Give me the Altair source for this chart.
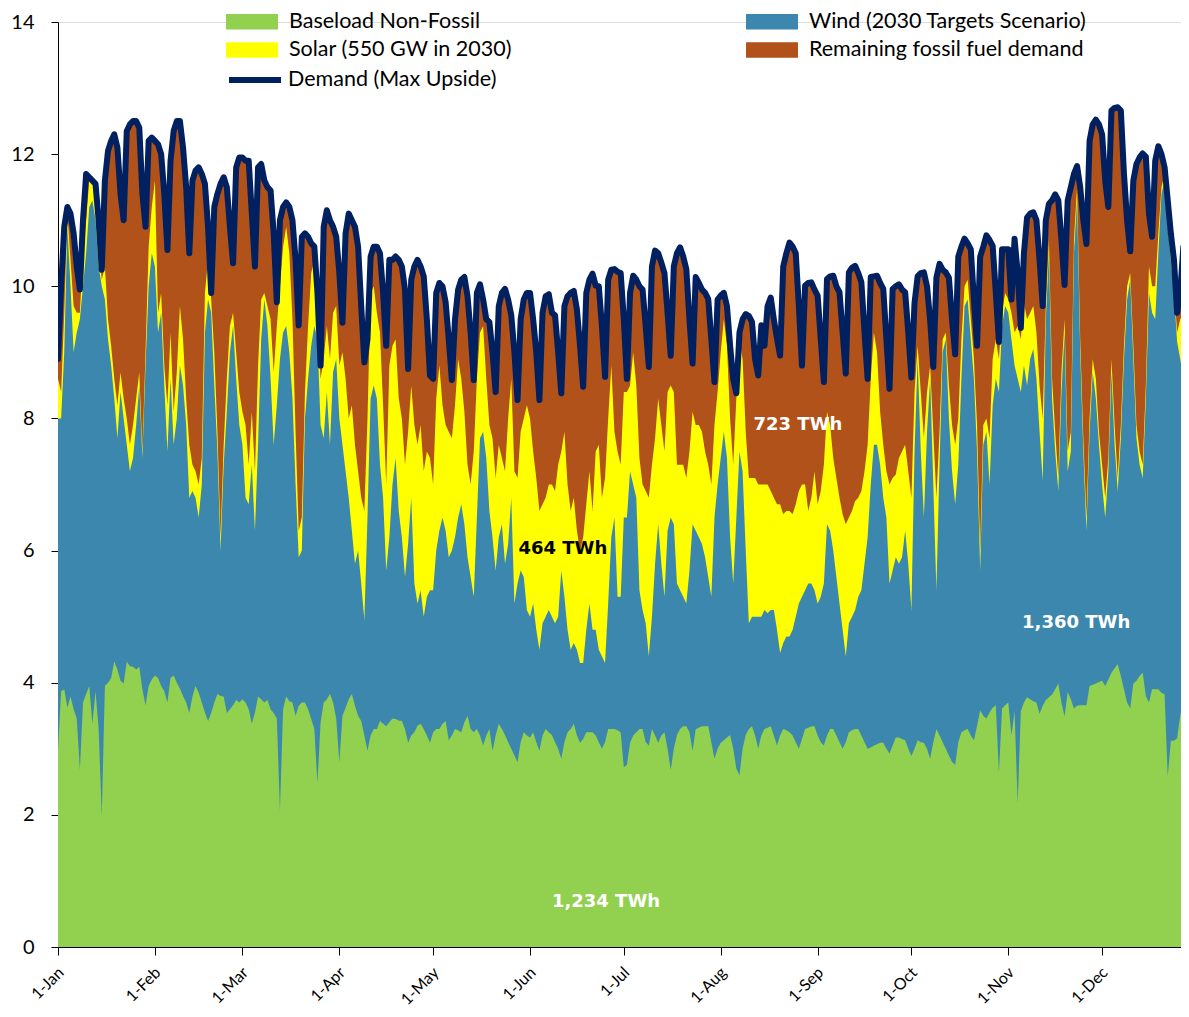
import json
import altair as alt
import pandas as pd

# ---------------- data ----------------
month_start_days = [0, 31, 59, 90, 120, 151, 181, 212, 243, 273, 304, 334]
month_labels = ["1-Jan", "1-Feb", "1-Mar", "1-Apr", "1-May", "1-Jun",
                "1-Jul", "1-Aug", "1-Sep", "1-Oct", "1-Nov", "1-Dec"]
y_ticks = [0, 2, 4, 6, 8, 10, 12, 14]

# Demand (Max Upside), TWh/day, one value per day from 1-Jan
demand = [
    8.9, 10.0, 10.9, 11.2, 11.1, 10.8, 10.3,
    9.95, 11.0, 11.7, 11.65, 11.6, 11.55, 11.0,
    10.25, 11.6, 12.05, 12.2, 12.3, 12.1, 11.4,
    11.0, 12.35, 12.45, 12.5, 12.5, 12.4, 11.4,
    10.9, 12.2, 12.25, 12.2, 12.15, 12.0, 11.4,
    10.55, 11.9, 12.35, 12.5, 12.5, 12.1, 11.5,
    10.5, 11.6, 11.75, 11.8, 11.7, 11.55, 10.9,
    9.9, 11.2, 11.4, 11.55, 11.65, 11.5, 10.9,
    10.35, 11.8, 11.95, 11.95, 11.9, 11.9, 11.1,
    10.3, 11.8, 11.85, 11.6, 11.5, 11.45, 10.8,
    9.76, 11.0, 11.2, 11.27, 11.2, 11.0, 10.4,
    9.41, 10.75, 10.8, 10.75, 10.65, 10.6, 9.9,
    8.8, 10.9, 11.15, 11.0, 10.9, 10.75, 10.2,
    9.45, 10.8, 11.1, 11.0, 10.9, 10.6, 9.7,
    8.85, 9.2, 10.45, 10.6, 10.6, 10.5, 9.9,
    9.1, 10.4, 10.4, 10.45, 10.4, 10.3, 9.95,
    8.75, 10.1, 10.3, 10.4, 10.3, 10.15, 9.5,
    8.65, 8.6, 9.9, 10.05, 10.0, 9.76, 9.2,
    8.58, 9.5, 9.95, 10.1, 10.14, 9.85, 9.3,
    8.58, 9.9, 10.03, 9.8, 9.5, 9.46, 9.0,
    8.4, 9.7, 9.9, 9.96, 9.8, 9.56, 9.0,
    8.28, 9.5, 9.8, 9.9, 9.9, 9.5, 9.0,
    8.28, 9.6, 9.85, 9.88, 9.6, 9.56, 9.0,
    8.38, 9.7, 9.85, 9.9, 9.93, 9.65, 9.1,
    8.48, 9.9, 10.1, 10.19, 10.01, 10.0, 9.4,
    8.63, 10.1, 10.25, 10.26, 10.22, 10.2, 9.5,
    8.6, 9.9, 10.16, 10.1, 10.0, 9.95, 9.4,
    8.78, 10.3, 10.54, 10.5, 10.36, 10.2, 9.6,
    8.95, 10.3, 10.5, 10.59, 10.45, 10.26, 9.5,
    8.83, 10.14, 10.05, 9.95, 9.9, 9.81, 9.2,
    8.55, 9.8, 9.86, 9.9, 9.7, 9.1, 8.6,
    8.38, 9.3, 9.5, 9.58, 9.55, 9.46, 8.9,
    8.65, 9.41, 9.1, 9.7, 9.83, 9.5, 9.21,
    8.95, 10.3, 10.5, 10.66, 10.6, 10.5, 9.7,
    8.8, 10.01, 10.05, 10.06, 9.95, 9.86, 9.2,
    8.55, 10.11, 10.15, 10.16, 10.0, 9.91, 9.3,
    8.68, 10.21, 10.28, 10.31, 10.2, 10.06, 9.3,
    8.6, 10.14, 10.15, 10.16, 10.05, 9.96, 9.2,
    8.45, 9.96, 10.0, 10.03, 9.95, 9.91, 9.3,
    8.62, 9.75, 10.15, 10.2, 10.21, 10.0, 9.48,
    8.78, 10.13, 10.34, 10.25, 10.21, 10.13, 9.5,
    8.97, 10.45, 10.6, 10.72, 10.65, 10.56, 9.8,
    9.1, 10.45, 10.6, 10.77, 10.7, 10.61, 9.9,
    9.16, 10.56, 10.56, 10.56, 9.8, 10.72, 10.2,
    9.37, 10.5, 11.04, 11.1, 11.12, 11.0, 10.4,
    9.7, 11.0, 11.25, 11.3, 11.39, 11.3, 10.7,
    10.02, 11.3, 11.5, 11.7, 11.82, 11.5, 11.0,
    10.64, 12.2, 12.45, 12.52, 12.45, 12.3, 11.6,
    11.2, 12.66, 12.7, 12.71, 12.66, 11.7, 11.0,
    10.53, 11.6, 11.85, 11.95, 12.01, 11.96, 11.1,
    10.75, 11.9, 12.12, 12.0, 11.8, 11.3, 10.8,
    10.4, 9.6, 9.9, 10.6, 10.66,
]

# Baseload Non-Fossil, TWh/day
baseload = [
    2.97, 3.87, 3.9, 3.62, 3.79, 3.6, 3.46, 2.68, 3.7, 3.83, 3.95, 3.38, 3.87, 3.3,
    1.99, 3.95, 4.0, 4.07, 4.32, 4.2, 4.03, 3.99, 4.32, 4.25, 4.24, 4.2, 4.24, 3.9,
    3.66, 3.95, 4.05, 4.11, 4.07, 3.95, 3.87, 3.7, 4.07, 4.11, 4.0, 3.91, 3.8, 3.7,
    3.54, 3.79, 3.95, 3.85, 3.7, 3.55, 3.42, 3.54, 3.7, 3.83, 3.8, 3.79, 3.54, 3.6,
    3.66, 3.74, 3.7, 3.75, 3.7, 3.6, 3.38, 3.55, 3.79, 3.75, 3.7, 3.74, 3.6, 3.54,
    3.46, 2.07, 3.6, 3.79, 3.72, 3.7, 3.5, 3.65, 3.7, 3.7, 3.6, 3.45, 3.3, 2.48,
    3.4, 3.7, 3.75, 3.83, 3.7, 3.46, 2.8, 3.5, 3.62, 3.75, 3.83, 3.65, 3.5, 3.42,
    3.2, 2.97, 3.2, 3.3, 3.3, 3.42, 3.38, 3.34, 3.4, 3.46, 3.45, 3.43, 3.42, 3.3,
    3.09, 3.2, 3.25, 3.35, 3.38, 3.3, 3.2, 3.09, 3.25, 3.3, 3.3, 3.38, 3.42, 3.13,
    3.2, 3.3, 3.28, 3.25, 3.4, 3.5, 3.3, 3.25, 3.3, 3.2, 3.05, 3.2, 3.3, 2.97,
    3.2, 3.38, 3.3, 3.21, 3.1, 3.0, 2.9, 2.8, 3.1, 3.25, 3.2, 3.17, 3.25, 3.1,
    2.97, 3.2, 3.3, 3.25, 3.21, 3.1, 3.0, 2.85, 3.1, 3.25, 3.3, 3.38, 3.2, 3.09,
    3.15, 3.25, 3.25, 3.25, 3.2, 3.1, 3.0, 3.1, 3.3, 3.3, 3.3, 3.28, 3.25, 2.72,
    2.76, 3.09, 3.2, 3.25, 3.3, 3.3, 3.1, 3.05, 3.3, 3.2, 3.09, 3.2, 3.25, 3.0,
    2.68, 3.0, 3.21, 3.3, 3.34, 3.34, 3.25, 2.97, 3.3, 3.32, 3.34, 3.34, 3.34, 3.1,
    2.85, 3.0, 3.09, 3.13, 3.17, 3.21, 3.0, 2.7, 2.6, 3.0, 3.21, 3.3, 3.34, 3.2,
    3.0, 3.2, 3.3, 3.32, 3.34, 3.2, 3.05, 3.2, 3.3, 3.28, 3.25, 3.2, 3.1, 3.0,
    3.15, 3.3, 3.32, 3.34, 3.34, 3.2, 3.1, 3.05, 3.2, 3.3, 3.3, 3.2, 3.1, 3.0,
    3.1, 3.25, 3.28, 3.3, 3.3, 3.2, 3.1, 3.0, 3.02, 3.05, 3.07, 3.09, 3.09, 3.0,
    2.93, 3.05, 3.17, 3.17, 3.15, 3.13, 3.0, 2.89, 3.0, 3.13, 3.1, 3.09, 3.0, 2.85,
    3.1, 3.3, 3.2, 3.1, 3.0, 2.9, 2.8, 2.76, 3.1, 3.25, 3.28, 3.3, 3.2, 3.13,
    3.35, 3.58, 3.5, 3.46, 3.55, 3.62, 3.66, 2.64, 3.61, 3.66, 3.7, 3.2, 3.57, 2.17,
    3.57, 3.7, 3.78, 3.75, 3.72, 3.7, 3.53, 3.65, 3.74, 3.78, 3.82, 3.9, 3.99, 3.7,
    3.49, 3.86, 3.75, 3.61, 3.65, 3.66, 3.66, 3.66, 3.95, 3.97, 3.99, 4.01, 4.03, 3.95,
    4.05, 4.15, 4.22, 4.28, 4.1, 3.9, 3.7, 3.61, 3.99, 4.03, 4.1, 4.15, 3.8, 3.7,
    3.9, 3.9, 3.9, 3.85, 3.82, 2.58, 3.12, 3.12, 3.16, 3.5, 3.74, 3.57,
]

# Level reached by Baseload + Wind (2030 Targets Scenario), TWh/day
wind_top = [
    8.0, 8.0, 9.0, 10.9, 10.0, 9.0, 9.3, 9.5, 10.0, 10.5, 11.2, 11.3, 11.0, 10.3,
    10.0, 9.8, 9.2, 8.8, 8.3, 7.7, 8.4, 8.0, 7.6, 7.2, 7.4, 7.9, 8.5, 7.4,
    8.8, 10.0, 10.5, 10.3, 9.3, 9.6, 8.5, 7.5, 8.6, 7.6, 8.0, 8.8, 8.5, 7.9,
    6.8, 6.9, 6.8, 6.5, 7.0, 9.3, 9.8, 9.6, 8.5, 7.5, 6.0, 7.3, 8.1, 9.0,
    9.4, 8.6, 7.9, 7.6, 6.8, 6.7, 7.3, 6.3, 7.6, 9.2, 9.8, 9.4, 8.6, 7.6,
    8.2, 8.9, 9.3, 9.4, 9.0, 8.3, 7.0, 5.9, 6.0, 8.0, 8.6, 9.1, 9.4, 9.2,
    7.9, 7.7, 8.4, 7.6, 8.7, 8.9, 8.0, 7.6, 7.2, 6.8, 6.3, 5.8, 6.0, 5.5,
    4.95, 6.5, 8.3, 8.5, 8.3, 7.3, 6.8, 5.7, 6.2, 7.0, 7.4, 6.6, 6.2, 5.6,
    6.1, 6.8, 5.5, 5.2, 5.4, 5.0, 5.3, 5.4, 5.4, 6.0, 6.3, 6.5, 6.3, 5.9,
    6.0, 6.2, 6.5, 6.7, 6.4, 5.9, 5.6, 5.3, 6.5, 7.7, 7.8, 7.4, 6.6, 6.2,
    5.7, 6.2, 6.4, 5.8, 6.1, 6.8, 5.2, 5.5, 5.7, 5.6, 5.1, 5.0, 5.2, 4.8,
    4.5, 4.9, 5.0, 5.1, 5.0, 4.9, 5.0, 5.7, 5.3, 4.8, 4.5, 4.6, 4.5, 4.3,
    4.3, 4.8, 5.2, 4.8, 4.8, 4.5, 4.4, 4.3, 5.2, 6.2, 6.5, 5.3, 5.3, 6.5,
    6.5, 7.2, 7.0, 6.8, 5.4, 5.1, 4.9, 4.4, 5.0, 5.8, 6.4, 5.8, 5.3, 6.3,
    6.5, 6.4, 5.5, 5.4, 5.3, 5.2, 5.7, 6.4, 6.3, 6.2, 6.1, 5.9, 5.6, 5.3,
    6.5, 7.0, 7.4, 7.8, 7.4, 6.2, 5.5, 6.5, 7.5, 7.2, 6.0, 4.9, 5.0, 5.0,
    5.0, 5.0, 5.1, 5.05, 5.1, 5.1, 4.8, 4.45, 4.6, 4.7, 4.7, 4.8, 5.0, 5.2,
    5.3, 5.4, 5.5, 5.5, 5.4, 5.2, 5.3, 5.5, 6.4, 6.3, 6.0, 5.6, 5.2, 4.8,
    4.4, 4.9, 5.0, 5.1, 5.3, 5.4, 5.8, 6.2, 7.0, 7.6, 7.6, 7.3, 6.8, 6.5,
    5.5, 5.7, 5.9, 5.8, 5.9, 6.3, 5.8, 5.1, 7.5, 8.9, 7.5, 6.5, 7.8, 8.6,
    7.0, 5.4, 7.3, 9.0, 9.2, 8.0, 7.2, 6.7, 7.3, 8.6, 9.7, 9.8, 9.2, 8.6,
    7.5, 5.7, 7.6, 7.8, 7.0, 8.2, 8.6, 8.4, 9.4, 9.7, 9.6, 9.2, 8.8, 8.6,
    8.4, 8.8, 8.5, 8.9, 9.05, 8.6, 7.8, 7.06, 9.5, 10.5, 8.3, 7.5, 6.9, 8.4,
    9.3, 7.2, 7.5, 10.5, 11.3, 9.0, 7.5, 6.3, 7.8, 8.7, 8.3, 7.6, 7.0, 6.5,
    7.2, 8.7, 7.6, 6.9, 7.7, 8.9, 9.8, 10.1, 8.9, 7.7, 7.3, 7.1, 8.3, 9.9,
    9.6, 9.5, 10.5, 11.4, 11.6, 10.9, 10.4, 9.9, 9.16, 8.9, 8.6, 9.8,
]

# Level reached by Baseload + Wind + Solar (550 GW in 2030), TWh/day
solar_top = [
    8.6, 8.4, 9.6, 11.1, 10.4, 9.7, 9.6, 9.6, 10.5, 11.0, 11.6, 11.6, 11.4, 10.6,
    10.1, 10.3, 9.5, 9.1, 8.6, 8.2, 8.7, 8.3, 8.0, 7.6, 7.9, 8.3, 8.7, 7.5,
    9.0, 10.6, 11.2, 11.6, 9.6, 9.9, 8.8, 8.2, 9.3, 8.1, 8.7, 9.7, 9.2, 8.3,
    7.6, 7.3, 7.2, 7.0, 7.4, 9.9, 10.4, 9.8, 9.0, 7.8, 6.2, 7.6, 8.6, 9.4,
    9.6, 9.0, 8.4, 8.1, 7.9, 7.3, 8.1, 7.2, 8.8, 9.8, 9.9, 9.7, 9.5, 8.7,
    9.4, 10.0, 10.6, 10.9, 10.5, 9.5, 7.8, 6.3, 6.5, 8.4, 9.4, 10.2, 10.4, 9.5,
    8.6, 8.9, 9.4, 8.9, 9.6, 9.7, 8.8, 9.0, 8.6, 8.0, 8.2, 7.6, 7.2, 6.8,
    6.6, 8.0, 9.9, 10.0, 9.6, 9.3, 8.2, 7.0, 8.8, 9.1, 9.2, 8.3, 8.0, 7.3,
    7.8, 8.5, 7.9, 7.6, 7.9, 7.2, 7.5, 7.4, 7.0, 8.3, 8.8, 8.2, 7.9, 7.8,
    7.7, 8.2, 8.9, 8.6, 8.1, 7.3, 7.0, 7.5, 8.6, 9.3, 9.4, 8.6, 7.9, 7.7,
    7.1, 7.6, 7.4, 7.2, 8.0, 8.6, 7.2, 7.1, 7.8, 8.0, 8.2, 8.0, 7.5, 7.1,
    6.6, 6.7, 6.8, 7.0, 7.0, 6.9, 7.3, 7.5, 7.8, 7.0, 6.6, 6.8, 6.3, 6.0,
    6.2, 6.7, 7.2, 6.6, 7.5, 7.6, 6.8, 7.1, 8.0, 8.8, 7.8, 7.5, 7.3, 8.4,
    8.4, 8.5, 9.0, 8.5, 7.4, 7.0, 6.9, 6.8, 7.3, 7.7, 8.3, 7.9, 7.5, 8.4,
    8.5, 8.4, 7.3, 7.3, 7.3, 7.1, 7.5, 8.1, 7.9, 7.9, 7.8, 7.5, 7.3, 7.0,
    7.9, 8.4, 9.0, 9.5, 9.1, 8.0, 7.3, 8.3, 9.2, 8.9, 7.8, 7.1, 7.1, 7.1,
    7.0, 7.0, 7.0, 7.0, 6.9, 6.8, 6.7, 6.7, 6.55, 6.6, 6.6, 6.55, 6.7, 6.9,
    7.0, 7.0, 6.6, 6.8, 7.2, 6.7, 6.9, 7.3, 8.1, 7.9, 7.4, 7.1, 6.8, 6.55,
    6.4, 6.5, 6.6, 6.75, 6.8, 6.9, 7.2, 7.6, 8.6, 9.3, 9.0, 8.1, 7.6, 7.2,
    7.0, 7.1, 7.15, 7.4, 7.5, 7.6, 7.2, 6.8, 8.4, 9.1, 8.4, 7.7, 8.4, 8.8,
    7.8, 6.8, 7.8, 9.2, 9.3, 8.5, 7.9, 7.6, 8.0, 9.2, 10.0, 10.1, 9.5, 8.9,
    7.9, 6.0, 7.9, 8.0, 7.7, 8.9, 9.2, 8.9, 9.6, 9.9, 9.8, 9.6, 9.3, 9.4,
    9.2, 9.75, 9.5, 9.6, 9.7, 9.3, 8.5, 8.0, 9.7, 10.7, 8.6, 7.8, 7.1, 8.7,
    9.5, 7.5, 7.8, 10.7, 11.5, 9.2, 7.7, 6.5, 8.0, 8.9, 8.6, 7.8, 7.3, 6.8,
    7.4, 8.9, 7.9, 7.1, 7.9, 9.1, 10.0, 10.2, 9.1, 7.9, 7.5, 7.3, 8.5, 10.3,
    10.0, 10.0, 10.8, 11.5, 11.7, 11.0, 10.5, 10.0, 9.3, 9.5, 9.6, 10.4,
]

# legend reading order (the legend fills column by column)
series_names = ["Baseload Non-Fossil", "Solar (550 GW in 2030)",
                "Wind (2030 Targets Scenario)", "Remaining fossil fuel demand"]
series_colors = ["#92D050", "#FFFF00", "#3C87AE", "#B05219"]
demand_name = "Demand (Max Upside)"
demand_color = "#002060"

annotation_texts = ["1,234 TWh", "464 TWh", "723 TWh", "1,360 TWh"]
annotation_days = [175.3, 161.5, 236.7, 325.7]
annotation_levels = [0.68, 6.03, 7.9, 4.9]
annotation_colors = ["white", "black", "white", "white"]

# ---------------- tables ----------------
n = min(len(demand), len(baseload), len(wind_top), len(solar_top))
df = pd.DataFrame({
    "day": list(range(n)),
    "baseload": baseload[:n],
    "wind_top": wind_top[:n],
    "solar_top": solar_top[:n],
    "demand": demand[:n],
})
df["solar_top"] = df[["solar_top", "demand"]].min(axis=1)
df["wind_top"] = df[["wind_top", "solar_top"]].min(axis=1)
df["baseload"] = df[["baseload", "wind_top"]].min(axis=1)

ann = pd.DataFrame({"text": annotation_texts, "day": annotation_days,
                    "level": annotation_levels, "color": annotation_colors})

# ---------------- encodings ----------------
label_expr = f"{json.dumps(month_labels)}[indexof({json.dumps(month_start_days)}, datum.value)]"

PLOT_W = 1123
PLOT_H = 925
x_scale = alt.Scale(domain=[0, PLOT_W / 3.126], nice=False, zero=False)
x_axis = alt.Axis(values=month_start_days, labelExpr=label_expr, title=None, grid=False,
                  labelAngle=-45, labelAlign="right", labelBaseline="top",
                  labelOffset=-3, labelPadding=9, tickSize=8, tickColor="black",
                  domainColor="black", labelFont="Lato", labelFontSize=16,
                  labelColor="black", labelBound=False, labelOverlap=False)
y_scale = alt.Scale(domain=[0, 14], nice=False, zero=True)
y_axis = alt.Axis(values=y_ticks, title=None, grid=False, tickSize=7, tickColor="black",
                  domainColor="black", labelFont="Lato", labelFontSize=20,
                  labelColor="black", labelPadding=17)

fill_scale = alt.Scale(domain=series_names, range=series_colors)
fill_legend = alt.Legend(title=None, orient="none", legendX=181, legendY=-13.5, columns=2,
                         symbolType="M-2,-0.6H2V0.6H-2Z", symbolSize=676,
                         symbolStrokeWidth=0, symbolOpacity=1, labelOffset=24,
                         labelFont="Lato", labelFontSize=21.5, labelColor="black",
                         labelLimit=600, columnPadding=233, rowPadding=4.5, padding=0)

stroke_scale = alt.Scale(domain=[demand_name], range=[demand_color])
stroke_legend = alt.Legend(title=None, orient="none", legendX=181, legendY=42,
                           symbolType="M-2,0H2", symbolSize=676, symbolStrokeWidth=6,
                           symbolFillColor="transparent", labelOffset=17,
                           labelFont="Lato", labelFontSize=21.5, labelColor="black",
                           labelLimit=600, padding=0)

base = alt.Chart(df)


def area_layer(field, name):
    return base.mark_area(opacity=1, interpolate="linear", clip=True).transform_calculate(
        series=json.dumps(name)
    ).encode(
        x=alt.X("day:Q", scale=x_scale, axis=x_axis),
        y=alt.Y(f"{field}:Q", scale=y_scale, axis=y_axis, stack=None),
        fill=alt.Fill("series:N", scale=fill_scale, legend=fill_legend),
    )


fossil_area = area_layer("demand", "Remaining fossil fuel demand")
solar_area = area_layer("solar_top", "Solar (550 GW in 2030)")
wind_area = area_layer("wind_top", "Wind (2030 Targets Scenario)")
base_area = area_layer("baseload", "Baseload Non-Fossil")

demand_line = base.mark_line(strokeWidth=6, strokeJoin="round", strokeCap="round",
                             clip=True).transform_calculate(
    line_series=json.dumps(demand_name)
).encode(
    x=alt.X("day:Q", scale=x_scale, axis=x_axis),
    y=alt.Y("demand:Q", scale=y_scale, axis=y_axis, stack=None),
    stroke=alt.Stroke("line_series:N", scale=stroke_scale, legend=stroke_legend),
)

labels = alt.Chart(ann).mark_text(font="DejaVu Sans", fontWeight="bold", fontSize=18).encode(
    x=alt.X("day:Q", scale=x_scale, axis=x_axis),
    y=alt.Y("level:Q", scale=y_scale, axis=y_axis),
    text="text:N",
    color=alt.Color("color:N", scale=None),
)

chart = alt.layer(fossil_area, solar_area, wind_area, base_area, demand_line, labels).properties(
    width=PLOT_W,
    height=PLOT_H,
    padding={"left": 50, "top": 14, "right": 0, "bottom": 60},
    autosize=alt.AutoSizeParams(type="none"),
).configure_view(stroke=None).configure(background="white")

chart.save("out.html", embed_options={"renderer": "svg", "actions": False})
